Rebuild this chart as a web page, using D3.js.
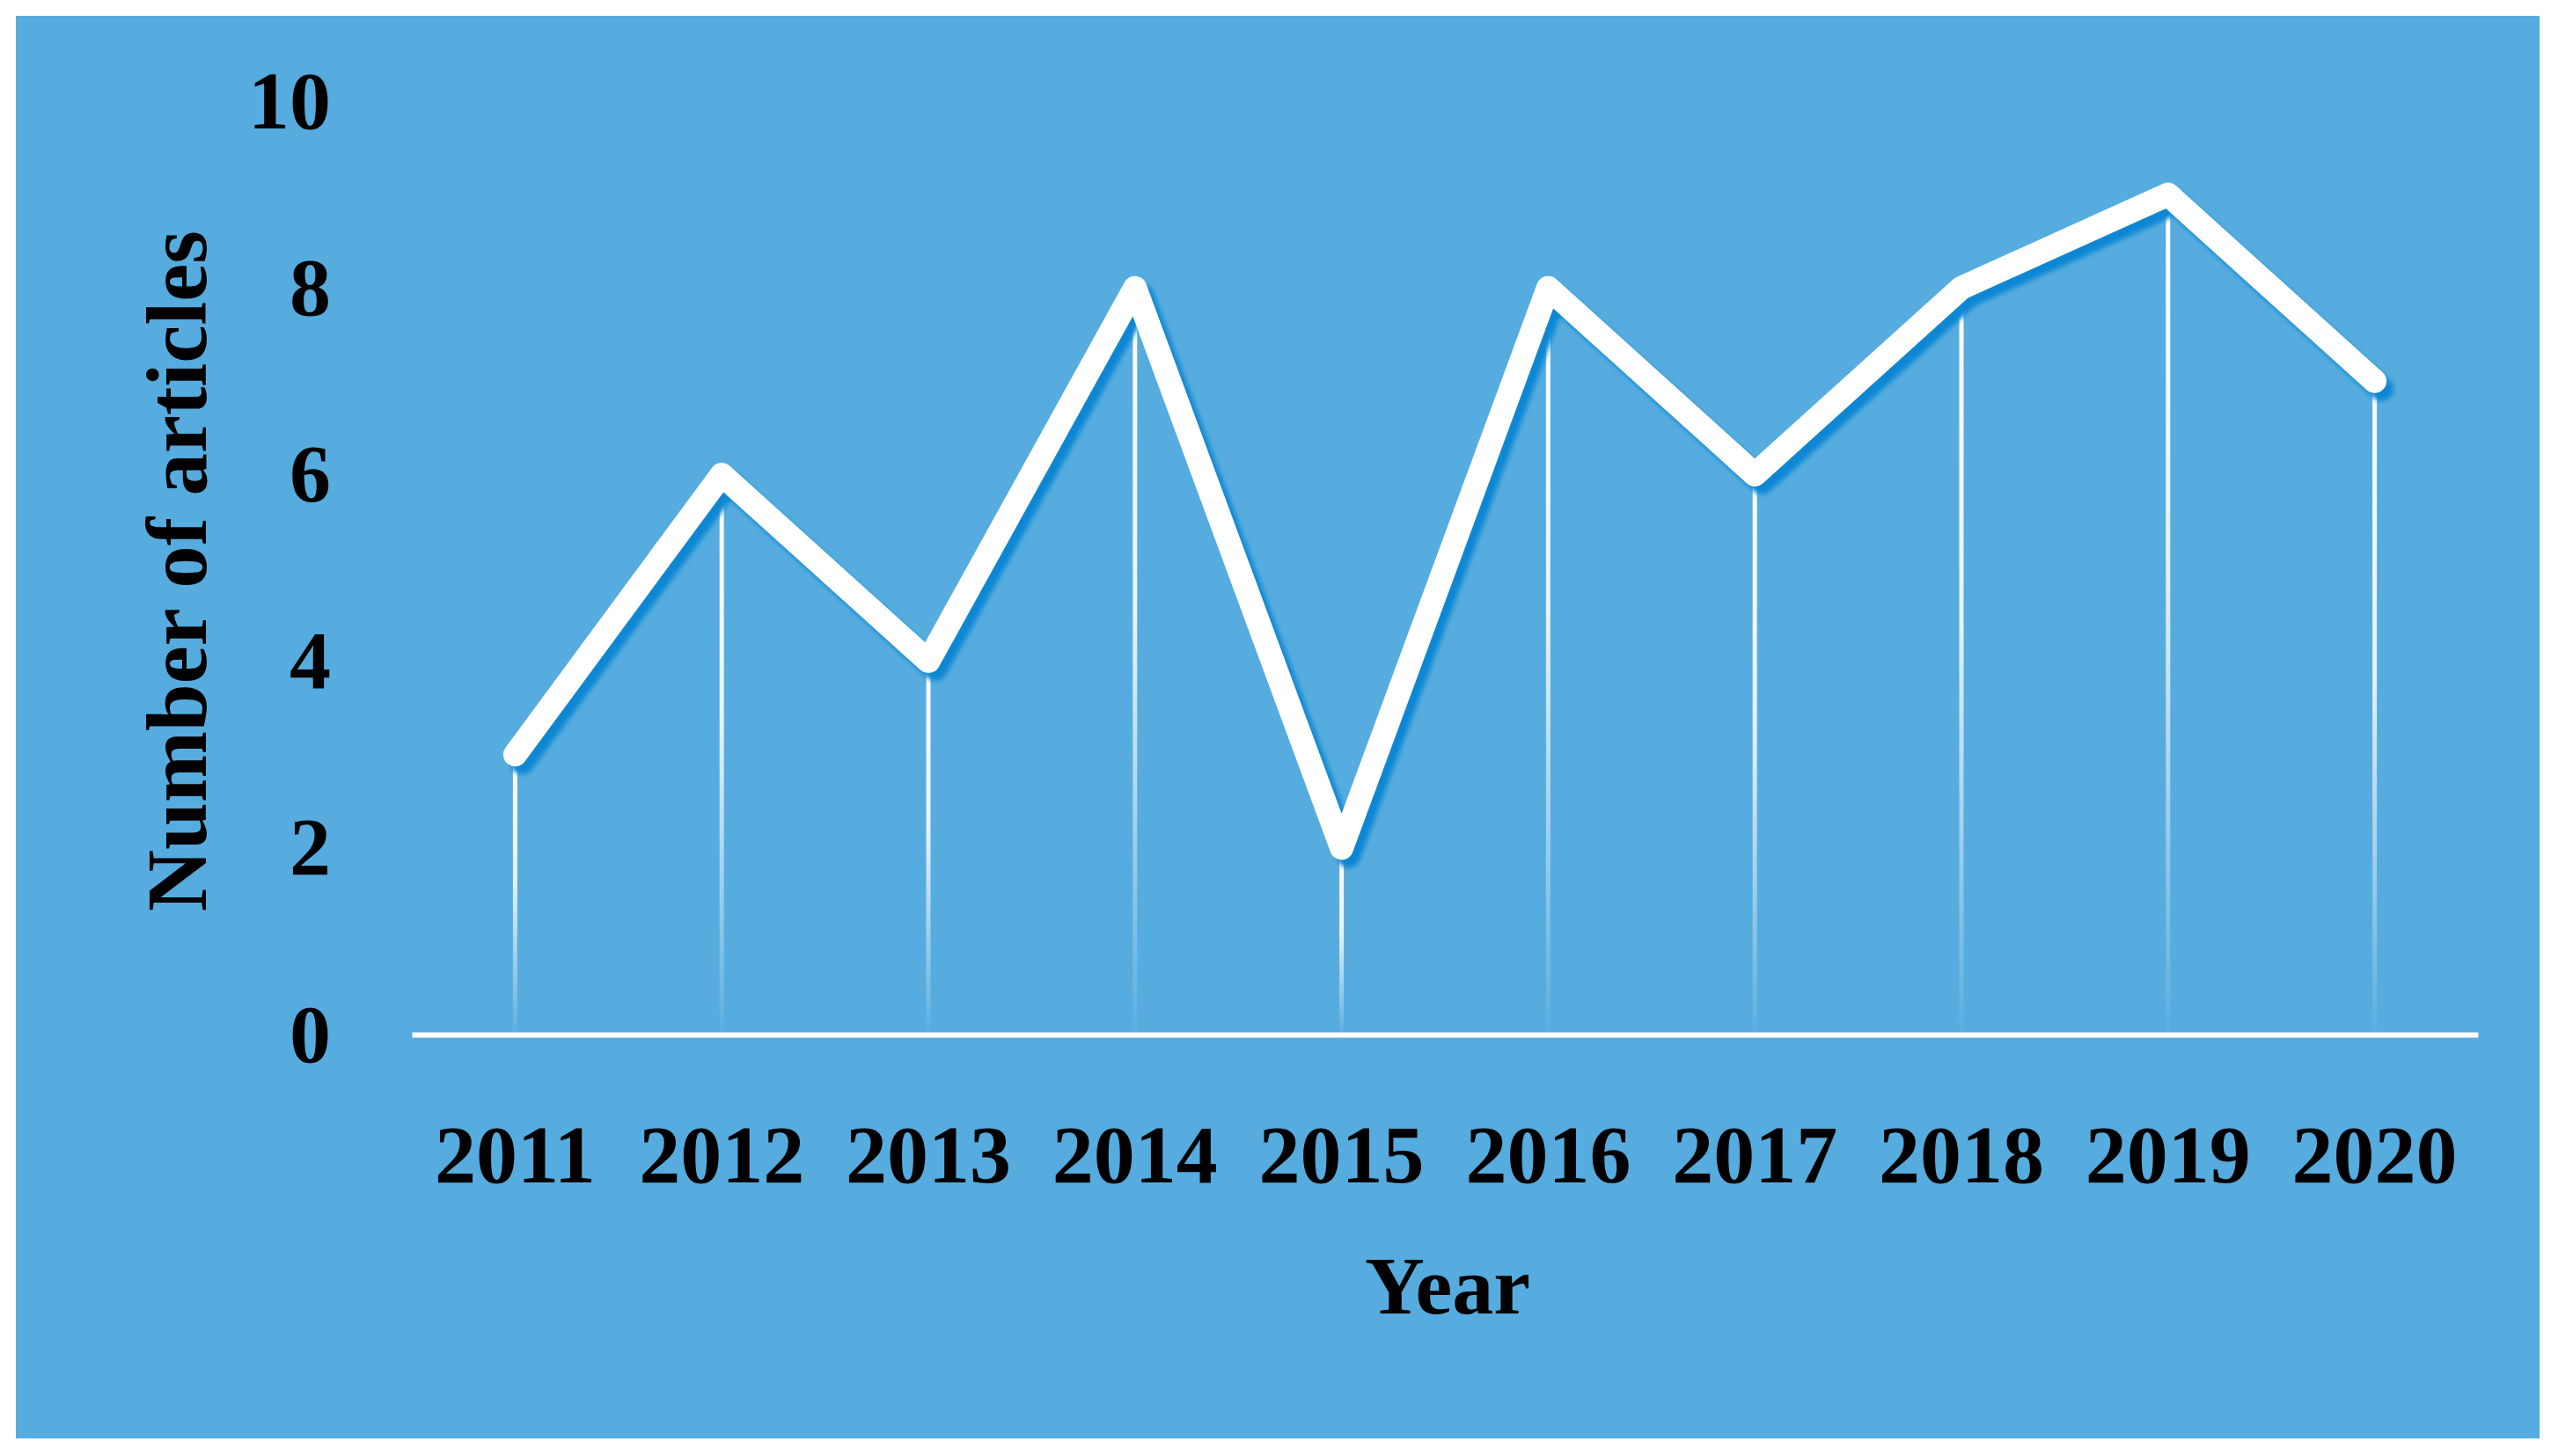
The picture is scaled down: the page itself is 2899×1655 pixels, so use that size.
<!DOCTYPE html>
<html>
<head>
<meta charset="utf-8">
<script src="https://cdn.jsdelivr.net/npm/d3@7"></script>
<style>
body { margin: 0; background: #fff; }
text { font-family: "Liberation Serif", "DejaVu Serif", serif; font-weight: bold; fill: #000; }
</style>
</head>
<body>
<script>
var years = ["2011", "2012", "2013", "2014", "2015", "2016", "2017", "2018", "2019", "2020"];
var articles = [3, 6, 4, 8, 2, 8, 6, 8, 9, 7];
var yTicks = [0, 2, 4, 6, 8, 10];

var width = 2899, height = 1655;

var svg = d3.select("body").append("svg")
	.attr("width", width)
	.attr("height", height);

var defs = svg.append("defs");

defs.append("filter").attr("id", "soft")
	.attr("x", "-10%").attr("y", "-10%").attr("width", "120%").attr("height", "120%")
	.append("feGaussianBlur").attr("stdDeviation", 2.5);

var grad = defs.append("linearGradient").attr("id", "drop")
	.attr("x1", 0).attr("y1", 0).attr("x2", 0).attr("y2", 1);
grad.append("stop").attr("offset", 0).attr("stop-color", "#fff").attr("stop-opacity", 1);
grad.append("stop").attr("offset", 0.45).attr("stop-color", "#fff").attr("stop-opacity", 0.85);
grad.append("stop").attr("offset", 1).attr("stop-color", "#fff").attr("stop-opacity", 0.03);

// panel
svg.append("rect")
	.attr("x", 18).attr("y", 18)
	.attr("width", 2868).attr("height", 1617)
	.attr("fill", "#56acde");

var x = d3.scaleBand().domain(years).range([468, 2816]);
var y = d3.scaleLinear().domain([0, 10]).range([1176, 115]);
var cx = function(d) { return x(d) + x.bandwidth() / 2; };

// drop lines
svg.append("g").selectAll("rect")
	.data(years)
	.enter()
	.append("rect")
	.attr("x", function(d) { return cx(d) - 2.5; })
	.attr("y", function(d, i) { return y(articles[i]); })
	.attr("width", 5)
	.attr("height", function(d, i) { return y(0) - y(articles[i]); })
	.attr("fill", "url(#drop)");

// x axis
svg.append("line")
	.attr("x1", 468).attr("x2", 2816)
	.attr("y1", y(0) + 1).attr("y2", y(0) + 1)
	.attr("stroke", "#3a9bd6").attr("stroke-width", 14)
	.attr("filter", "url(#soft)");

var xAxis = svg.append("g")
	.attr("transform", "translate(0," + y(0) + ")")
	.call(d3.axisBottom(x).tickSize(0).tickSizeOuter(0));
xAxis.select(".domain").attr("stroke", "#fff").attr("stroke-width", 6);
xAxis.selectAll("text")
	.attr("y", 168).attr("dy", 0)
	.style("font-size", "94px")
	.style("font-family", "'Liberation Serif', serif");

var yAxis = svg.append("g")
	.attr("transform", "translate(376,0)")
	.call(d3.axisLeft(y).tickValues(yTicks).tickSize(0).tickPadding(0));
yAxis.select(".domain").remove();
yAxis.selectAll("text")
	.style("font-size", "94px")
	.style("font-family", "'Liberation Serif', serif");

// line
var line = d3.line()
	.x(function(d, i) { return cx(years[i]); })
	.y(function(d) { return y(d); });

svg.append("path")
	.datum(articles)
	.attr("d", line)
	.attr("transform", "translate(8,9)")
	.attr("fill", "none")
	.attr("stroke", "#0f87d4")
	.attr("stroke-width", 27)
	.attr("stroke-linejoin", "round")
	.attr("stroke-linecap", "round")
	.attr("filter", "url(#soft)");

svg.append("path")
	.datum(articles)
	.attr("d", line)
	.attr("fill", "none")
	.attr("stroke", "#fff")
	.attr("stroke-width", 27)
	.attr("stroke-linejoin", "round")
	.attr("stroke-linecap", "round");

// titles
svg.append("text")
	.attr("x", 1645).attr("y", 1493)
	.attr("text-anchor", "middle")
	.style("font-size", "94px")
	.text("Year");

svg.append("text")
	.attr("transform", "translate(234,649) rotate(-90)")
	.attr("text-anchor", "middle")
	.style("font-size", "97px")
	.text("Number of articles");
</script>
</body>
</html>
